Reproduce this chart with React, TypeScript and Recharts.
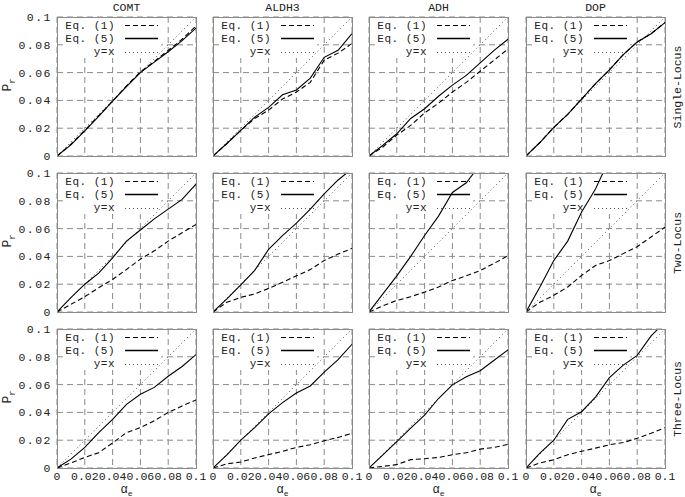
import React from 'react';
import { LineChart, Line, XAxis, YAxis, CartesianGrid, ReferenceArea } from 'recharts';

// significance level alpha_e
const X = [0, 0.01, 0.02, 0.03, 0.04, 0.05, 0.06, 0.07, 0.08, 0.09, 0.1];
const TICKS = [0, 0.02, 0.04, 0.06, 0.08, 0.1];
const TICK_LABELS = ['0', '0.02', '0.04', '0.06', '0.08', '0.1'];
const DIAG = [0, 0.1];
const GENES = ['COMT', 'ALDH3', 'ADH', 'DOP'];
const MODELS = ['Single-Locus', 'Two-Locus', 'Three-Locus'];

// single-locus
const COMT_1_EQ1 = [0, 0.0085, 0.0185, 0.029, 0.0395, 0.0505, 0.0605, 0.068, 0.076, 0.084, 0.0935];
const COMT_1_EQ5 = [0, 0.008, 0.018, 0.0285, 0.0395, 0.05, 0.06, 0.0675, 0.075, 0.083, 0.092];
const ALDH3_1_EQ1 = [0, 0.009, 0.0185, 0.027, 0.033, 0.041, 0.046, 0.053, 0.069, 0.074, 0.081];
const ALDH3_1_EQ5 = [0, 0.009, 0.0185, 0.028, 0.035, 0.044, 0.0475, 0.056, 0.071, 0.076, 0.088];
const ADH_1_EQ1 = [0, 0.0065, 0.015, 0.022, 0.031, 0.038, 0.046, 0.053, 0.061, 0.069, 0.077];
const ADH_1_EQ5 = [0, 0.0077, 0.016, 0.027, 0.034, 0.043, 0.051, 0.058, 0.067, 0.076, 0.084];
const DOP_1_EQ1 = [0, 0.0097, 0.0206, 0.03, 0.041, 0.052, 0.062, 0.073, 0.082, 0.088, 0.096];
const DOP_1_EQ5 = [0, 0.0097, 0.0206, 0.03, 0.041, 0.052, 0.062, 0.073, 0.082, 0.088, 0.096];

// two-locus
const COMT_2_EQ1 = [0, 0.0055, 0.011, 0.0175, 0.0234, 0.0306, 0.038, 0.044, 0.051, 0.057, 0.063];
const COMT_2_EQ5 = [0, 0.0103, 0.02, 0.028, 0.039, 0.051, 0.059, 0.067, 0.074, 0.081, 0.092];
const ALDH3_2_EQ1 = [0, 0.007, 0.0105, 0.013, 0.017, 0.0214, 0.026, 0.0305, 0.037, 0.0417, 0.0457];
const ALDH3_2_EQ5 = [0, 0.0095, 0.0195, 0.03, 0.045, 0.055, 0.064, 0.074, 0.085, 0.095, 0.103];
const ADH_2_EQ1 = [0, 0.0045, 0.0083, 0.011, 0.0143, 0.018, 0.0226, 0.026, 0.0298, 0.035, 0.0405];
const ADH_2_EQ5 = [0, 0.013, 0.026, 0.04, 0.055, 0.069, 0.086, 0.093, 0.106, null, null];
const DOP_2_EQ1 = [0, 0.007, 0.012, 0.018, 0.0263, 0.0335, 0.037, 0.042, 0.047, 0.054, 0.061];
const DOP_2_EQ5 = [0, 0.018, 0.037, 0.051, 0.072, 0.0885, 0.11, null, null, null, null];

// three-locus
const COMT_3_EQ1 = [0, 0.0036, 0.0076, 0.011, 0.018, 0.0255, 0.029, 0.034, 0.04, 0.0446, 0.049];
const COMT_3_EQ5 = [0, 0.0064, 0.0148, 0.0255, 0.035, 0.0458, 0.053, 0.058, 0.066, 0.073, 0.0816];
const ALDH3_3_EQ1 = [0, 0.003, 0.0043, 0.0072, 0.0096, 0.012, 0.0148, 0.0167, 0.0196, 0.022, 0.025];
const ALDH3_3_EQ5 = [0, 0.0095, 0.02, 0.029, 0.039, 0.047, 0.054, 0.059, 0.069, 0.078, 0.089];
const ADH_3_EQ1 = [0, 0.0012, 0.0024, 0.006, 0.0067, 0.0076, 0.0095, 0.011, 0.0136, 0.0148, 0.017];
const ADH_3_EQ5 = [0, 0.0095, 0.019, 0.0287, 0.038, 0.05, 0.0598, 0.0656, 0.07, 0.0775, 0.085];
const DOP_3_EQ1 = [0, 0.0036, 0.006, 0.0095, 0.012, 0.0143, 0.0167, 0.0183, 0.0214, 0.025, 0.029];
const DOP_3_EQ5 = [0, 0.0107, 0.02, 0.035, 0.0405, 0.051, 0.065, 0.074, 0.081, 0.095, 0.105];

const EQ1 = [
  [COMT_1_EQ1, ALDH3_1_EQ1, ADH_1_EQ1, DOP_1_EQ1],
  [COMT_2_EQ1, ALDH3_2_EQ1, ADH_2_EQ1, DOP_2_EQ1],
  [COMT_3_EQ1, ALDH3_3_EQ1, ADH_3_EQ1, DOP_3_EQ1],
];
const EQ5 = [
  [COMT_1_EQ5, ALDH3_1_EQ5, ADH_1_EQ5, DOP_1_EQ5],
  [COMT_2_EQ5, ALDH3_2_EQ5, ADH_2_EQ5, DOP_2_EQ5],
  [COMT_3_EQ5, ALDH3_3_EQ5, ADH_3_EQ5, DOP_3_EQ5],
];

const SIZE = 139;
const COL_X = [57, 213, 369, 526];
const ROW_Y = [17, 173, 329];
const YW = 52;
const XH = 20;
const PAD = 10;
const FONT = '"Liberation Mono", "DejaVu Sans Mono", monospace';
const INK = '#222';
const FRAME = '#8a8a8a';

// white block behind the key (in data units)
const KEY_X = [0.0045, 0.075];
const KEY_Y = [0.0705, 0.1];

const fmt = (v: number) => TICK_LABELS[TICKS.indexOf(v)] ?? String(v);

const KeyRow = ({ label, dash, width, top }: { label: string; dash?: string; width: number; top: number }) => (
  <div style={{ position: 'absolute', left: 0, top, display: 'flex', alignItems: 'center', height: 13 }}>
    <span style={{ width: 58, textAlign: 'right', whiteSpace: 'pre', fontFamily: FONT, fontSize: 11, letterSpacing: 0.5, color: INK }}>
      {label}
    </span>
    <svg width={40} height={13} style={{ marginLeft: 10 }}>
      <line x1={0} x2={33} y1={6.5} y2={6.5} stroke={dash === '1 3' ? '#555' : '#000'} strokeWidth={width} strokeDasharray={dash} />
    </svg>
  </div>
);

const Panel = ({ row, col }: { row: number; col: number }) => {
  const data = X.map((x, i) => ({ x, eq1: EQ1[row][col][i], eq5: EQ5[row][col][i] }));
  const diag = DIAG.map((v) => ({ x: v, yx: v }));
  const showY = col === 0;
  const showX = row === 2;
  const offL = PAD + (showY ? YW : 0);
  const w = SIZE + offL + PAD;
  const h = SIZE + 2 * PAD + (showX ? XH : 0);
  const tick = { fontFamily: FONT, fontSize: 11.5, fill: INK };
  return (
    <div style={{ position: 'absolute', left: COL_X[col] - offL, top: ROW_Y[row] - PAD, width: w, height: h }}>
      <LineChart width={w} height={h} data={data} margin={{ top: PAD, right: PAD, bottom: PAD, left: PAD }}>
        <CartesianGrid stroke={FRAME} strokeDasharray="6 4" />
        <XAxis
          type="number"
          dataKey="x"
          domain={[0, 0.1]}
          ticks={TICKS}
          interval={0}
          allowDataOverflow
          hide={!showX}
          height={XH}
          tickFormatter={fmt}
          axisLine={false}
          tickLine={false}
          tickSize={2}
          tickMargin={2}
          tick={tick}
        />
        <YAxis
          type="number"
          domain={[0, 0.1]}
          ticks={TICKS}
          interval={0}
          allowDataOverflow
          hide={!showY}
          width={YW}
          tickFormatter={fmt}
          axisLine={false}
          tickLine={false}
          tickSize={3}
          tickMargin={2}
          tick={{ ...tick, style: { letterSpacing: 1.5 } }}
        />
        <ReferenceArea x1={KEY_X[0]} x2={KEY_X[1]} y1={KEY_Y[0]} y2={KEY_Y[1]} fill="#fff" fillOpacity={1} stroke="none" />
        <Line data={diag} dataKey="yx" type="linear" stroke="#555" strokeWidth={1} strokeDasharray="1 3" dot={false} isAnimationActive={false} />
        <Line dataKey="eq1" type="linear" stroke="#000" strokeWidth={1.1} strokeDasharray="5 3" dot={false} isAnimationActive={false} />
        <Line dataKey="eq5" type="linear" stroke="#000" strokeWidth={1.1} dot={false} isAnimationActive={false} />
      </LineChart>
      <div
        style={{
          position: 'absolute',
          left: offL,
          top: PAD,
          width: SIZE + 1,
          height: SIZE + 1,
          border: `1px solid ${FRAME}`,
          boxSizing: 'border-box',
          pointerEvents: 'none',
        }}
      />
      <div style={{ position: 'absolute', left: offL, top: PAD, width: SIZE, height: 45 }}>
        <KeyRow label="Eq. (1)" dash="5 3" width={1.2} top={2} />
        <KeyRow label="Eq. (5)" width={1.4} top={15} />
        <KeyRow label="y=x" dash="1 3" width={1} top={28.5} />
      </div>
    </div>
  );
};

export default function App() {
  return (
    <div style={{ position: 'absolute', left: 0, top: 0, width: 685, height: 497, background: '#fff', fontFamily: FONT, color: INK }}>
      {GENES.map((g, c) => (
        <div
          key={g}
          style={{ position: 'absolute', left: COL_X[c], top: 1, width: SIZE, textAlign: 'center', fontSize: 11.5 }}
        >
          {g}
        </div>
      ))}
      {MODELS.map((m, r) => (
        <div
          key={m}
          style={{
            position: 'absolute',
            left: 677,
            top: ROW_Y[r] + SIZE / 2,
            transform: 'translate(-50%, -50%) rotate(-90deg)',
            whiteSpace: 'nowrap',
            fontSize: 11.5,
          }}
        >
          {m}
        </div>
      ))}
      {MODELS.map((m, r) => (
        <div
          key={'p' + m}
          style={{
            position: 'absolute',
            left: 9,
            top: ROW_Y[r] + SIZE / 2 - 2,
            transform: 'translate(-50%, -50%) rotate(-90deg)',
            whiteSpace: 'nowrap',
            fontSize: 13,
          }}
        >
          P<sub style={{ fontSize: 9 }}>r</sub>
        </div>
      ))}
      {MODELS.map((m, r) => GENES.map((g, c) => <Panel key={m + g} row={r} col={c} />))}
      {GENES.map((g, c) => (
        <div
          key={'a' + g}
          style={{ position: 'absolute', left: COL_X[c], top: 484, width: SIZE, textAlign: 'center', fontSize: 12, lineHeight: '12px' }}
        >
          α<span style={{ fontSize: 8, position: 'relative', top: 3 }}>e</span>
        </div>
      ))}
    </div>
  );
}
